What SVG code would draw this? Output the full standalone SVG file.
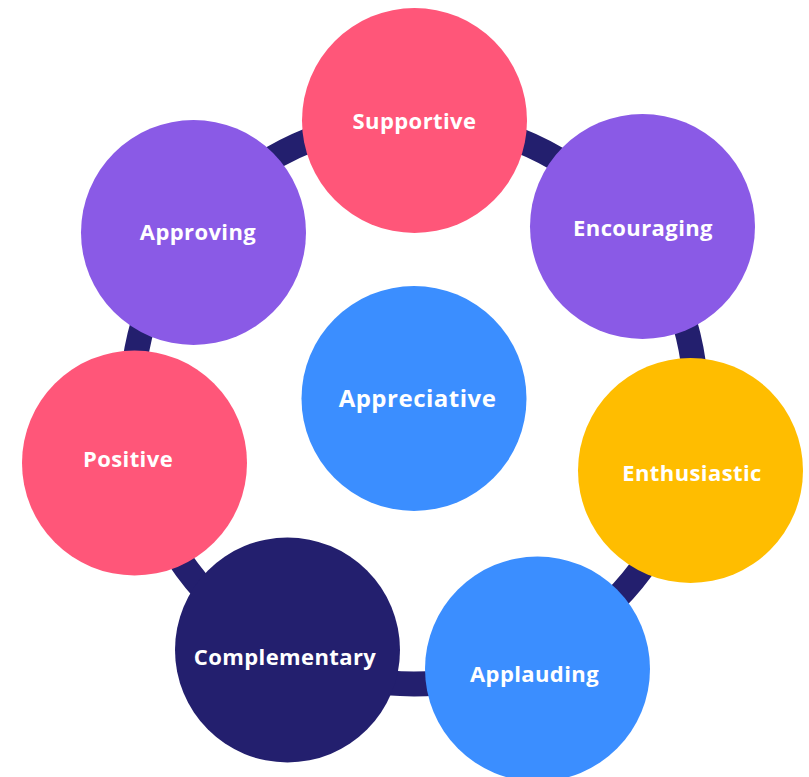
<svg xmlns="http://www.w3.org/2000/svg" width="809" height="777" viewBox="0 0 809 777">
  <style>
    .node text { font-family: "Open Sans", "Noto Sans", "Liberation Sans", sans-serif; font-weight: 700; font-size: 22px; letter-spacing: 0.4px; fill: #ffffff; text-anchor: middle; }
    .pink { fill: #FF5679; }
    .purple { fill: #8A5AE6; }
    .blue { fill: #3B8EFF; }
    .yellow { fill: #FFBD00; }
    .navy { fill: #231F6E; }
    .ring { fill: none; stroke: #231F6E; stroke-width: 25; }
  </style>
  <rect width="809" height="777" fill="#ffffff"/>

  <!-- ring linking the outer circles -->
  <g id="connectors">
    <circle class="ring" cx="414" cy="402" r="282"/>
  </g>

  <g id="supportive" class="node">
    <circle class="pink" cx="414.5" cy="120.5" r="112.5"/>
    <text x="414.5" y="129">Supportive</text>
  </g>
  <g id="encouraging" class="node">
    <circle class="purple" cx="642.5" cy="226.5" r="112.5"/>
    <text x="643" y="236">Encouraging</text>
  </g>
  <g id="approving" class="node">
    <circle class="purple" cx="193.5" cy="232.5" r="112.5"/>
    <text x="198" y="240">Approving</text>
  </g>
  <g id="appreciative" class="node">
    <circle class="blue" cx="414" cy="398.5" r="112.5"/>
    <text x="417.5" y="407" style="font-size:24px;letter-spacing:0.5px">Appreciative</text>
  </g>
  <g id="positive" class="node">
    <circle class="pink" cx="134.5" cy="463" r="112.5"/>
    <text x="128" y="467">Positive</text>
  </g>
  <g id="enthusiastic" class="node">
    <circle class="yellow" cx="690.5" cy="470.5" r="112.5"/>
    <text x="692" y="481">Enthusiastic</text>
  </g>
  <g id="complementary" class="node">
    <circle class="navy" cx="287.5" cy="650" r="112.5"/>
    <text x="285" y="665">Complementary</text>
  </g>
  <g id="applauding" class="node">
    <circle class="blue" cx="537.5" cy="669" r="112.5"/>
    <text x="534.5" y="682">Applauding</text>
  </g>
</svg>
